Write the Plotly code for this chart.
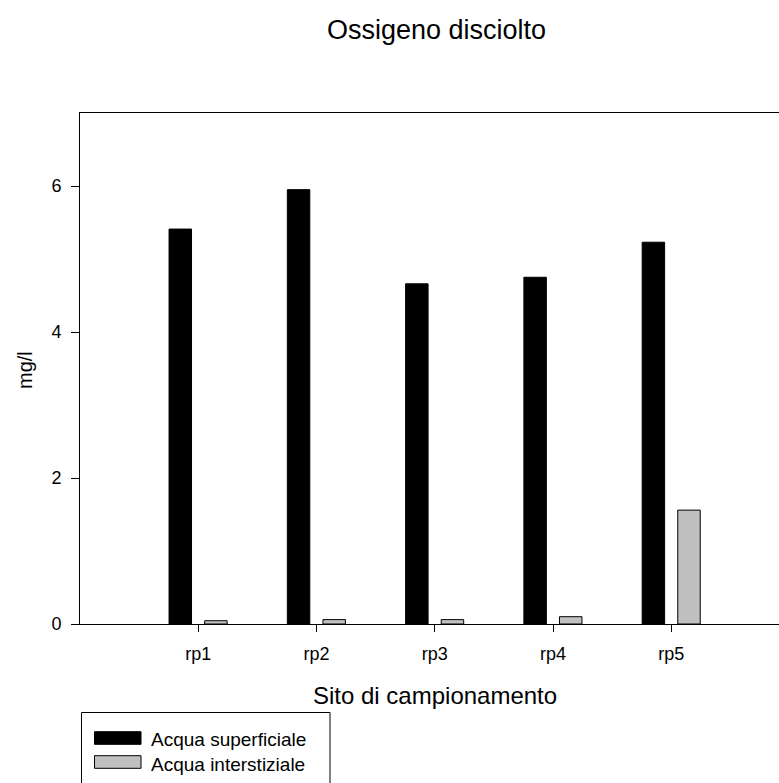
import plotly.graph_objects as go

categories = ["rp1", "rp2", "rp3", "rp4", "rp5"]
series_names = ["Acqua superficiale", "Acqua interstiziale"]
superficiale = [5.41, 5.95, 4.66, 4.75, 5.23]
interstiziale = [0.045, 0.06, 0.06, 0.10, 1.56]
yticks = [0, 2, 4, 6]
colors = ["black", "#c0c0c0"]

W, H = 779, 783
L, T, B, R = 80, 113, 159, 0
pw, ph = W - L - R, H - T - B


def px_x(p):
    return (p - L) / pw


def px_y(p):
    return (H - B - p) / ph


idx = list(range(len(categories)))
bw = 0.19
fig = go.Figure()
for vals, name, col, off in [(superficiale, series_names[0], colors[0], -0.152),
                             (interstiziale, series_names[1], colors[1], 0.149)]:
    fig.add_trace(go.Bar(x=idx, y=vals, name=name, width=bw, offset=off - bw / 2,
                         marker=dict(color=col, line=dict(color="black", width=1)),
                         showlegend=False))

FONT = "Liberation Sans, Arial, sans-serif"
annotations = [
    dict(text="Sito di campionamento", xref="paper", yref="paper", x=px_x(435), y=px_y(695),
         xanchor="center", yanchor="middle", showarrow=False, font=dict(size=24)),
    dict(text="mg/l", xref="paper", yref="paper", x=px_x(25), y=px_y(370), textangle=-90,
         xanchor="center", yanchor="middle", showarrow=False, font=dict(size=20)),
]
shapes = [
    dict(type="rect", xref="paper", yref="paper", x0=px_x(81.5), x1=px_x(330),
         y0=px_y(712.5), y1=px_y(820), line=dict(color="black", width=1), fillcolor="white",
         layer="above"),
]
rows = [(731.7, 744.3, 739.5), (755.7, 768.3, 764)]
for (top, bot, tc), name, col in zip(rows, series_names, colors):
    shapes.append(dict(type="rect", xref="paper", yref="paper", x0=px_x(94.5), x1=px_x(141),
                       y0=px_y(bot), y1=px_y(top), line=dict(color="black", width=1),
                       fillcolor=col, layer="above"))
    annotations.append(dict(text=name, xref="paper", yref="paper", x=px_x(149), y=px_y(tc),
                            xanchor="left", yanchor="middle", showarrow=False,
                            font=dict(size=19)))

fig.update_layout(
    width=W, height=H,
    margin=dict(l=L, r=R, t=T, b=B, autoexpand=False),
    paper_bgcolor="white", plot_bgcolor="white",
    font=dict(family=FONT, color="black", size=17),
    title=dict(text="Ossigeno disciolto", x=436.5 / W, xanchor="center",
               y=1 - 29.5 / H, yanchor="middle", font=dict(size=27)),
    showlegend=False,
    annotations=annotations,
    shapes=shapes,
    xaxis=dict(range=[-1.0, 4.91], tickmode="array", tickvals=idx, ticktext=categories,
               showline=True, linecolor="black", linewidth=1, mirror=True,
               ticks="outside", ticklen=7, tickcolor="black", showgrid=False, zeroline=False,
               tickfont=dict(size=18), ticklabelstandoff=6),
    yaxis=dict(range=[0, 7], tickmode="array", tickvals=yticks,
               showline=True, linecolor="black", linewidth=1, mirror=False,
               ticks="outside", ticklen=8, tickcolor="black", showgrid=False, zeroline=False,
               tickfont=dict(size=18), ticklabelstandoff=6),
)
fig.write_html("out.html")
